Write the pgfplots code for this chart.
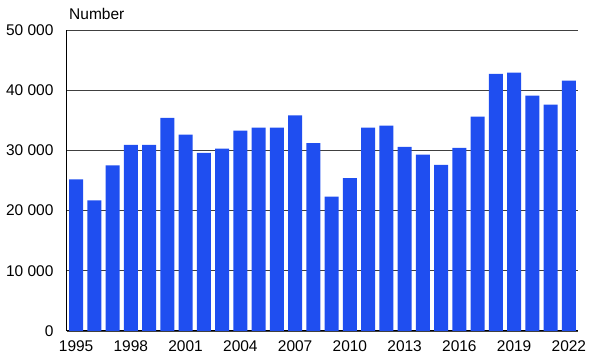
\documentclass[border=0pt]{standalone}
\usepackage{fontspec}
\setmainfont{Liberation Sans}
\usepackage{pgfplots}
\pgfplotsset{compat=1.18}
\definecolor{barblue}{RGB}{31,78,240}
\definecolor{gridc}{RGB}{64,64,64}
\begin{document}
\begin{tikzpicture}
\begin{axis}[
  scale only axis,
  width=511pt, height=301pt,
  xmin=1994.5, xmax=2022.5,
  ymin=0, ymax=50000,
  axis x line*=bottom, axis y line*=left,
  axis line style={black, line width=1pt, -},
  xtick={1995,1998,...,2022},
  ytick={0,10000,...,50000},
  scaled y ticks=false,
  major tick length=0pt,
  ymajorgrids,
  major grid style={gridc, line width=0.9pt},
  /pgf/number format/assume math mode=true,
  yticklabel style={/pgf/number format/1000 sep={\ }, xshift=-10pt},
  x tick label style={/pgf/number format/1000 sep={}, yshift=-6pt},
  tick label style={font=\fontsize{15.5}{18}\selectfont, text=black},
  ybar, bar width=0.77,
  clip=false,
]
\addplot[draw=none, fill=barblue] coordinates {
(1995,25200) (1996,21700) (1997,27500) (1998,30900) (1999,30900)
(2000,35400) (2001,32600) (2002,29600) (2003,30300) (2004,33300)
(2005,33800) (2006,33800) (2007,35800) (2008,31200) (2009,22300)
(2010,25400) (2011,33800) (2012,34100) (2013,30600) (2014,29300)
(2015,27600) (2016,30400) (2017,35600) (2018,42700) (2019,42900)
(2020,39100) (2021,37600) (2022,41600)
};
\node[anchor=south west, inner sep=0pt, font=\fontsize{15.5}{18}\selectfont] at (rel axis cs:0,1) [yshift=10pt, xshift=2pt] {Number};
\end{axis}
\pgfresetboundingbox
\useasboundingbox (-67pt,-32pt) rectangle (523pt,331pt);
\end{tikzpicture}
\end{document}
